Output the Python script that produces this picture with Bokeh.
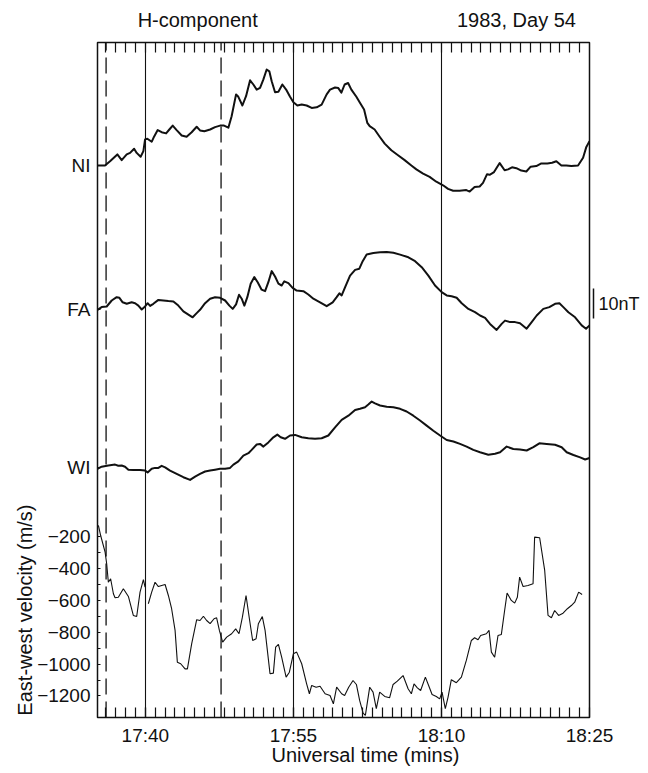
import math
import numpy as np
from bokeh.plotting import figure
from bokeh.models import Range1d, LinearAxis, FixedTicker, Span
from bokeh.embed import file_html
from bokeh.resources import INLINE

# ---------------- data (time = minutes after 17:00 UT) ----------------
ni_t = [35.15, 35.91, 36.42, 37.16, 37.60, 38.11, 38.45, 38.86, 39.12, 39.52, 39.80, 39.97,
        40.20, 40.64, 40.88, 41.25, 41.65, 42.10, 42.43, 42.77, 43.17, 43.68, 44.18, 44.69,
        45.20, 45.54, 45.98, 46.56, 47.06, 47.57, 47.97, 48.41, 48.74, 49.19, 49.42, 49.83,
        50.20, 50.61, 50.94, 51.28, 51.62, 51.96, 52.29, 52.56, 52.80, 53.14, 53.48, 53.88,
        54.26, 54.66, 55.00, 55.40, 55.84, 56.34, 56.85, 57.36, 57.86, 58.37, 58.71, 59.22,
        59.55, 59.86, 60.19, 60.54, 60.87, 61.38, 61.71, 62.16, 62.49, 62.73, 63.23, 63.74,
        64.25, 64.92, 65.60, 66.27, 66.95, 67.46, 68.14, 68.80, 69.48, 70.16, 70.67, 71.18,
        71.84, 72.52, 72.86, 73.36, 73.87, 74.21, 74.62, 74.88, 75.33, 75.66, 75.90, 76.40,
        76.75, 77.15, 77.59, 78.09, 78.60, 79.04, 79.61, 80.12, 80.73, 81.21, 81.64, 82.15,
        82.65, 83.16, 83.84, 84.35, 84.68, 85.00]
ni_h = [0, 0, 1.4, 3.7, 1.8, 3.7, 4.2, 5.6, 4.2, 2.9, 4.8, 8.7,
        8.9, 7.9, 9.6, 11.8, 11.1, 10.7, 12.0, 13.3, 11.8, 10.0, 9.6, 11.1,
        12.9, 11.7, 11.4, 12.0, 12.8, 13.3, 13.3, 12.6, 16.4, 23.7, 22.9, 20.0,
        23.1, 28.4, 27.0, 25.3, 25.9, 28.7, 32.0, 31.4, 28.1, 24.4, 24.6, 27.0,
        25.3, 22.9, 21.1, 20.0, 20.3, 20.0, 19.2, 19.4, 20.3, 23.7, 25.3, 26.0,
        25.8, 24.3, 27.0, 27.5, 25.3, 22.9, 21.1, 18.7, 14.2, 13.1, 12.0, 9.6,
        7.3, 5.1, 3.4, 1.8, 0.0, -1.3, -2.7, -3.8, -5.4, -6.6, -7.8, -8.4,
        -8.4, -8.2, -8.7, -7.2, -7.0, -5.8, -2.9, -3.1, -2.2, -0.4, 0.8, -1.6,
        -1.3, -0.6, -0.9, -1.7, -2.0, -0.4, -0.2, 0.7, 0.7, 0.9, 1.4, 0.0,
        0.0, -0.2, 0.0, 2.6, 6.2, 8.1]

fa_t = [35.15, 35.57, 36.08, 36.59, 37.09, 37.37, 37.70, 38.11, 38.61, 38.96, 39.29, 39.63,
        39.97, 40.23, 40.48, 40.81, 41.32, 41.82, 42.33, 42.84, 43.34, 43.85, 44.36, 44.79,
        45.20, 45.54, 46.05, 46.56, 47.06, 47.57, 48.08, 48.51, 48.85, 49.19, 49.49, 49.76,
        50.03, 50.33, 50.67, 51.04, 51.38, 51.78, 52.13, 52.46, 52.80, 53.14, 53.48, 53.81,
        54.08, 54.49, 54.92, 55.33, 56.01, 56.51, 57.02, 57.70, 58.37, 58.98, 59.38, 59.66,
        59.89, 60.23, 60.74, 61.25, 61.68, 62.02, 62.42, 63.10, 63.78, 64.45, 65.13, 65.81,
        66.65, 67.33, 68.00, 68.67, 69.35, 70.02, 70.53, 71.03, 71.54, 72.05, 72.73, 73.40,
        73.91, 74.42, 74.92, 75.59, 76.10, 76.44, 76.95, 77.46, 77.96, 78.63, 79.14, 79.65,
        80.32, 80.93, 81.51, 81.95, 82.35, 82.86, 83.54, 84.21, 84.65, 85.00]
fa_h = [-0.1, 0.8, 1.0, 3.0, 4.1, 3.9, 2.4, 1.9, 2.4, 2.1, 1.3, 0.0,
        1.0, 2.1, 1.2, 1.9, 3.2, 3.0, 2.8, 2.7, 1.3, -0.6, -1.7, -2.6,
        -1.2, -0.1, 2.1, 3.6, 4.1, 3.9, 3.0, 1.3, 0.2, 1.7, 4.9, 3.6,
        1.3, 4.1, 8.6, 10.8, 9.1, 6.6, 6.1, 9.1, 12.8, 11.0, 8.6, 8.0,
        9.4, 8.8, 7.2, 6.3, 6.1, 5.0, 3.6, 2.4, 1.1, 2.4, 4.1, 5.4,
        4.7, 7.4, 11.3, 13.2, 13.6, 16.1, 18.3, 18.8, 19.1, 19.2, 18.9, 18.3,
        17.4, 16.1, 14.1, 11.3, 8.0, 5.8, 4.7, 4.4, 3.9, 2.1, 0.2, -0.9,
        -2.0, -2.8, -4.8, -6.8, -4.8, -3.7, -4.2, -4.2, -4.6, -6.4, -4.2, -2.0,
        0.2, 0.8, 1.9, 2.1, 0.8, -0.9, -2.6, -5.3, -6.4, -5.3]

wi_t = [35.15, 35.57, 36.25, 36.93, 37.26, 37.60, 37.94, 38.28, 38.78, 39.46, 39.97, 40.23,
        40.64, 40.98, 41.32, 41.65, 42.00, 42.50, 43.17, 43.85, 44.53, 45.04, 45.54, 46.05,
        46.56, 47.06, 47.57, 48.08, 48.58, 48.92, 49.42, 49.93, 50.44, 50.77, 51.28, 51.62,
        51.96, 52.46, 52.97, 53.37, 53.71, 54.15, 54.66, 55.17, 55.84, 56.51, 57.19, 57.86,
        58.54, 59.22, 59.89, 60.57, 61.25, 61.75, 62.26, 62.59, 62.93, 63.27, 63.78, 64.45,
        65.13, 65.81, 66.47, 67.15, 67.83, 68.50, 69.18, 69.86, 70.53, 71.21, 71.88, 72.55,
        73.23, 73.91, 74.75, 75.43, 75.94, 76.61, 77.28, 77.96, 78.63, 79.31, 79.92, 80.66,
        81.51, 82.18, 82.69, 83.37, 84.05, 84.56, 85.00]
wi_h = [-0.4, 0.3, 0.7, 1.0, 0.6, 0.7, 0.3, -0.7, -0.8, -0.8, -1.0, -1.6,
        -0.4, -0.1, -0.1, 0.6, 0.1, -1.0, -2.1, -3.2, -4.1, -3.0, -2.1, -1.3,
        -1.0, -0.7, -0.4, -0.4, -0.1, 1.0, 2.1, 4.0, 4.8, 5.9, 7.7, 7.9,
        7.0, 8.4, 10.1, 11.0, 10.1, 9.6, 10.7, 10.9, 10.1, 9.8, 9.6, 9.8,
        10.7, 13.4, 15.9, 17.3, 19.2, 19.6, 20.1, 21.0, 22.0, 21.4, 20.7, 20.3,
        20.1, 19.6, 18.7, 17.3, 15.7, 14.0, 12.3, 10.7, 9.2, 8.7, 7.9, 7.0,
        5.9, 5.1, 4.3, 4.6, 5.1, 7.0, 6.2, 6.0, 5.7, 6.8, 8.1, 7.9,
        7.6, 6.8, 5.1, 4.2, 3.4, 2.7, 3.2]

vel_t = [35.24, 35.47, 35.92, 36.08, 36.25, 36.48, 36.76, 36.93, 37.26, 37.77, 38.28, 38.78,
         39.12, 39.46, 39.80, 39.97, float("nan"),
         40.30, 40.64, 40.98, 41.32, 41.65, 42.00, 42.33, 42.66, 43.01, 43.24, 43.58, 44.02,
         44.26, 44.69, 45.20, 45.54, 45.88, 46.21, 46.56, 46.96, 47.22, 47.50, 47.83, 48.24,
         48.74, 49.15, 49.49, 49.83, 50.20, 50.54, 50.87, 51.22, 51.45, 51.85, 52.13, 52.63,
         52.97, 53.20, 53.48, 53.81, 54.26, 54.59, 55.00, 55.33, 55.84, 56.34, 56.62, 56.85,
         57.30, 57.70, 58.21, 58.71, 59.05, 59.38, 59.89, 60.19, 60.60, 61.04, 61.38, 61.71,
         62.06, 62.29, 62.73, 63.07, 63.40, 63.74, 64.25, 64.75, 65.10, 65.53, 66.11, 66.62,
         66.95, 67.22, 67.56, 67.89, 68.37, 68.70, 69.05, 69.48, 69.82, 70.06, 70.39, 70.67,
         71.00, 71.51, 72.02, 72.52, 73.03, 73.36, 73.71, 73.97, 74.55, 74.82, 75.06, 75.39,
         75.73, 76.07, 76.40, 76.65, 77.08, 77.42, 77.69, 77.92, 78.27, 78.77, 79.28, 79.44,
         79.95, 80.46, 80.80, 81.14, 81.47, 81.87, 82.32, 82.76, 83.16, 83.50, 83.90, 84.25]
vel_v = [-131, -194, -298, -371, -487, -465, -559, -584, -581, -528, -576, -695,
         -702, -549, -471, -518, float("nan"),
         -622, -549, -487, -514, -507, -501, -570, -653, -789, -988, -998, -1030,
         -1030, -873, -722, -727, -700, -727, -747, -716, -710, -789, -863, -831,
         -810, -779, -810, -706, -570, -716, -852, -841, -747, -702, -789, -1061,
         -1057, -894, -877, -957, -1082, -1051, -935, -925, -998, -1124, -1186, -1134,
         -1145, -1139, -1186, -1197, -1249, -1145, -1186, -1197, -1145, -1103, -1128, -1228,
         -1308, -1322, -1145, -1176, -1280, -1176, -1203, -1211, -1128, -1107, -1072, -1155,
         -1186, -1124, -1149, -1166, -1082, -1134, -1191, -1203, -1218, -1176, -1280, -1207,
         -1098, -1117, -1082, -977, -852, -835, -848, -821, -810, -789, -925, -957,
         -821, -814, -664, -555, -601, -618, -581, -455, -514, -507, -497, -204,
         -208, -413, -695, -710, -664, -695, -681, -653, -633, -612, -549, -564]

solid_times = [40, 55, 70]          # 17:40, 17:55, 18:10
dashed_times = [36.02, 47.67]
time_ticks = [40, 55, 70, 85]
time_labels = ["17:40", "17:55", "18:10", "18:25"]
minute_ticks = list(range(36, 85))
vel_ticks = [-200, -400, -600, -800, -1000, -1200]
vel_minor = [-300, -500, -700, -900, -1100]
stations = ["NI", "FA", "WI"]
scale_nT = 10
title_left = "H-component"
title_right = "1983, Day 54"
x_title = "Universal time (mins)"
y_title = "East-west velocity (m/s)"

# ---------------- layout constants ----------------
FONT = "Liberation Sans"
INK = "#111111"
X0, X1 = 35.15, 85.0
V0, V1 = -1335, 2897          # velocity axis range (bottom, top)
MAG_SPAN = 225.0              # nT spanned by the frame height
offsets = {"NI": 184.0, "FA": 136.0, "WI": 83.3}
TITLE_POS = [45.3, 77.6]      # centres of the two header texts (time units)
XLABEL_POS = 62.3
YLABEL_POS = -700

p = figure(frame_width=492, frame_height=675,
           min_border_left=96, min_border_right=58, min_border_top=42, min_border_bottom=54,
           x_range=Range1d(X0, X1), y_range=Range1d(V0, V1),
           output_backend="svg", toolbar_location=None)
p.extra_y_ranges = {"mag": Range1d(0, MAG_SPAN)}
p.background_fill_color = "white"
p.border_fill_color = "white"
p.outline_line_color = INK
p.outline_line_width = 1.5
p.outline_line_alpha = 1.0

# grid: solid vertical time markers
p.ygrid.grid_line_color = None
p.xgrid.ticker = FixedTicker(ticks=solid_times)
p.xgrid.grid_line_color = INK
p.xgrid.grid_line_width = 1.1
p.xgrid.grid_line_alpha = 1.0


def plain(ax, size="19px", standoff=6):
    ax.axis_line_color = None
    ax.major_tick_in = 0
    ax.major_tick_out = 0
    ax.minor_tick_in = 0
    ax.minor_tick_out = 0
    ax.major_tick_line_color = INK
    ax.minor_tick_line_color = INK
    ax.major_label_text_font = FONT
    ax.major_label_text_font_size = size
    ax.major_label_text_color = INK
    ax.major_label_standoff = standoff


# bottom time axis (minute ticks inside)
bx = p.xaxis[0]
plain(bx, "19px", 7)
bx.ticker = FixedTicker(ticks=time_ticks, minor_ticks=minute_ticks)
bx.major_label_overrides = dict(zip(time_ticks, time_labels))
bx.major_tick_in = 10
bx.minor_tick_in = 10
bx.major_tick_line_width = 1.2
bx.minor_tick_line_width = 1.2

# second row below: axis title
bx2 = LinearAxis()
plain(bx2, "20px", -5)
bx2.ticker = FixedTicker(ticks=[XLABEL_POS])
bx2.major_label_overrides = {XLABEL_POS: x_title}
p.add_layout(bx2, "below")

# top axis: minute ticks inside + header texts
tx = LinearAxis()
plain(tx, "20px", 12)
tx.ticker = FixedTicker(ticks=TITLE_POS, minor_ticks=minute_ticks)
tx.major_label_overrides = {TITLE_POS[0]: title_left, TITLE_POS[1]: title_right}
tx.minor_tick_in = 10
tx.minor_tick_line_width = 1.2
p.add_layout(tx, "above")

# left axis: velocity ticks + station names
to_vel = (V1 - V0) / MAG_SPAN
station_ticks = [int(round(V0 + offsets[s] * to_vel)) for s in stations]
ly = p.yaxis[0]
plain(ly, "19px", 7)
ly.ticker = FixedTicker(ticks=vel_ticks + station_ticks, minor_ticks=vel_minor)
ly.major_label_overrides = dict(zip(station_ticks, stations))
ly.major_tick_in = 3
ly.minor_tick_in = 3

# outer left axis: velocity title
ly2 = LinearAxis()
plain(ly2, "20px", 9)
ly2.ticker = FixedTicker(ticks=[YLABEL_POS])
ly2.major_label_overrides = {YLABEL_POS: y_title}
ly2.major_label_orientation = math.pi / 2
p.add_layout(ly2, "left")

# right side: small gap, then the 10 nT scale bar with its label
bar_bottom = offsets["FA"] - 3
bar_mid = bar_bottom + scale_nT / 2
gap = LinearAxis(y_range_name="mag")
plain(gap, "1px", 0)
gap.ticker = FixedTicker(ticks=[bar_mid])
gap.major_label_overrides = {bar_mid: " "}
gap.major_tick_out = 1
gap.major_tick_line_color = None
p.add_layout(gap, "right")

bar = LinearAxis(y_range_name="mag")
plain(bar, "18px", 5)
bar.bounds = (bar_bottom, bar_bottom + scale_nT)
bar.axis_line_color = INK
bar.axis_line_width = 1.5
bar.ticker = FixedTicker(ticks=[bar_mid])
bar.major_label_overrides = {bar_mid: "10nT"}
p.add_layout(bar, "right")

# dashed event lines
for t in dashed_times:
    p.add_layout(Span(location=t, dimension="height", line_color=INK, line_width=1.3,
                      line_dash="16 7", line_dash_offset=8))

# magnetometer H-component traces
traces = {"NI": (ni_t, ni_h), "FA": (fa_t, fa_h), "WI": (wi_t, wi_h)}
for name in stations:
    t, h = traces[name]
    p.line(t, np.array(h) + offsets[name], y_range_name="mag",
           line_color=INK, line_width=2.0, line_join="round")

# velocity trace
p.line(np.array(vel_t), np.array(vel_v), line_color=INK, line_width=1.1)

open("out.html", "w").write(file_html(p, INLINE))
